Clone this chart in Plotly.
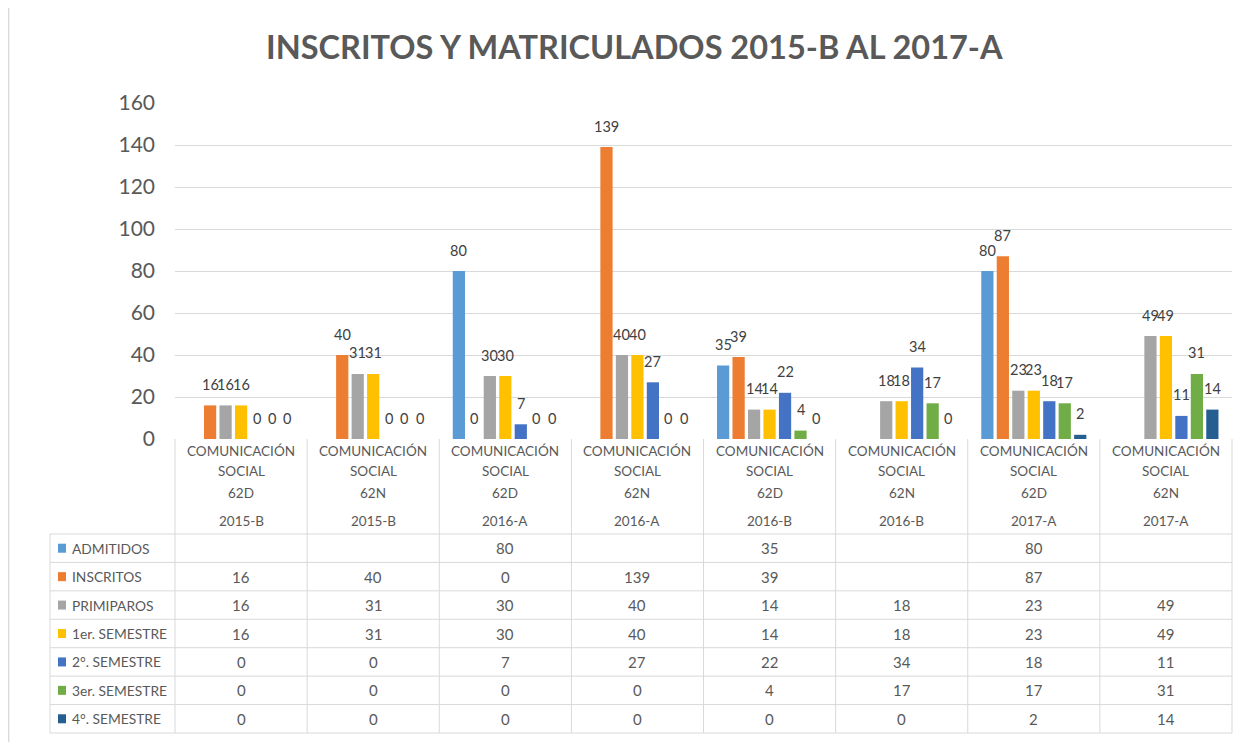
import plotly.graph_objects as go

W, H = 1260, 742

categories = ["COMUNICACIÓN SOCIAL 62D 2015-B", "COMUNICACIÓN SOCIAL 62N 2015-B",
              "COMUNICACIÓN SOCIAL 62D 2016-A", "COMUNICACIÓN SOCIAL 62N 2016-A",
              "COMUNICACIÓN SOCIAL 62D 2016-B", "COMUNICACIÓN SOCIAL 62N 2016-B",
              "COMUNICACIÓN SOCIAL 62D 2017-A", "COMUNICACIÓN SOCIAL 62N 2017-A"]
cat_program = ["COMUNICACIÓN"] * 8
cat_program2 = ["SOCIAL"] * 8
cat_group = ["62D", "62N", "62D", "62N", "62D", "62N", "62D", "62N"]
cat_period = ["2015-B", "2015-B", "2016-A", "2016-A", "2016-B", "2016-B", "2017-A", "2017-A"]

series_names = ["ADMITIDOS", "INSCRITOS", "PRIMIPAROS", "1er. SEMESTRE",
                "2°. SEMESTRE", "3er. SEMESTRE", "4°. SEMESTRE"]
admitidos = [None, None, 80, None, 35, None, 80, None]
inscritos = [16, 40, 0, 139, 39, None, 87, None]
primiparos = [16, 31, 30, 40, 14, 18, 23, 49]
sem1 = [16, 31, 30, 40, 14, 18, 23, 49]
sem2 = [0, 0, 7, 27, 22, 34, 18, 11]
sem3 = [0, 0, 0, 0, 4, 17, 17, 31]
sem4 = [0, 0, 0, 0, 0, 0, 2, 14]
series_values = [admitidos, inscritos, primiparos, sem1, sem2, sem3, sem4]
colors = ["#5B9BD5", "#ED7D31", "#A5A5A5", "#FFC000", "#4472C4", "#70AD47", "#255E91"]
y_ticks = [0, 20, 40, 60, 80, 100, 120, 140, 160]
title_text = "INSCRITOS Y MATRICULADOS 2015-B AL 2017-A"

FONT = "Lato, sans-serif"
TXT = "#595959"
GRID = "#D9D9D9"

# page offset of the figure inside the browser (body margin)
OFF = 8


def px(x):
    return (x - OFF) / W


def py(y):
    return 1 - (y - OFF) / H


X0, X1 = 175, 1232
Y0, Y1 = 439, 103
BARGAP = 0.18
GROUPGAP = 0.21

fig = go.Figure()
for name, vals, col in zip(series_names, series_values, colors):
    fig.add_trace(go.Bar(x=categories, y=vals, name=name, marker_color=col,
                         marker_line_width=0, hoverinfo="skip"))

shapes = []
annotations = []
n = len(categories)
k = len(series_names)
cw = (X1 - X0) / n
slot = cw * (1 - BARGAP) / k

# data labels, anchored on each bar's value through the axes
for j, vals in enumerate(series_values):
    for i, v in enumerate(vals):
        if v is None:
            continue
        annotations.append(dict(x=categories[i], y=v, xref="x", yref="y", text=str(v),
                                showarrow=False, xanchor="center", yanchor="middle",
                                xshift=(j - (k - 1) / 2) * slot, yshift=21,
                                font=dict(family=FONT, size=14.5, color="#404040")))

# table borders
row_top = 534
rows_bottom = 733
row_h = (rows_bottom - row_top) / k
line = dict(color=GRID, width=1)
for i in range(n + 1):
    xx = X0 + i * cw
    shapes.append(dict(type="line", xref="paper", yref="paper", x0=px(xx), x1=px(xx),
                       y0=py(Y0), y1=py(rows_bottom), line=line))
shapes.append(dict(type="line", xref="paper", yref="paper", x0=px(50), x1=px(50),
                   y0=py(row_top), y1=py(rows_bottom), line=line))
for r in range(k + 1):
    yy = row_top + r * row_h
    shapes.append(dict(type="line", xref="paper", yref="paper", x0=px(50), x1=px(X1),
                       y0=py(yy), y1=py(yy), line=line))

# category labels
for i in range(n):
    cx = px(X0 + (i + 0.5) * cw)
    for txt, yy in zip([cat_program[i], cat_program2[i], cat_group[i], cat_period[i]],
                       [451, 471, 493, 521]):
        annotations.append(dict(x=cx, y=py(yy), xref="paper", yref="paper", text=txt,
                                showarrow=False, xanchor="center", yanchor="middle",
                                font=dict(family=FONT, size=13.5, color=TXT)))

# table rows
for r, (name, vals, col) in enumerate(zip(series_names, series_values, colors)):
    cy = row_top + (r + 0.5) * row_h
    shapes.append(dict(type="rect", xref="paper", yref="paper", x0=px(58), x1=px(66),
                       y0=py(cy + 4.5), y1=py(cy - 4.5), fillcolor=col, line=dict(width=0)))
    annotations.append(dict(x=px(70), y=py(cy), xref="paper", yref="paper", text=name,
                            showarrow=False, xanchor="left", yanchor="middle",
                            font=dict(family=FONT, size=13.8, color=TXT)))
    for i, v in enumerate(vals):
        if v is None:
            continue
        annotations.append(dict(x=px(X0 + (i + 0.5) * cw), y=py(cy), xref="paper", yref="paper",
                                text=str(v), showarrow=False, xanchor="center", yanchor="middle",
                                font=dict(family=FONT, size=15, color=TXT)))

# left chart border
shapes.append(dict(type="line", xref="paper", yref="paper", x0=0.0005, x1=0.0005,
                   y0=0, y1=1, line=dict(color=GRID, width=1.5)))

annotations.append(dict(x=px(634), y=py(47), xref="paper", yref="paper",
                        text="<b>" + title_text + "</b>",
                        showarrow=False, xanchor="center", yanchor="middle",
                        font=dict(family=FONT, size=32.5, color=TXT)))

fig.update_layout(
    width=W, height=H, margin=dict(l=0, r=0, t=0, b=0, autoexpand=False),
    paper_bgcolor="white", plot_bgcolor="white",
    showlegend=False, barmode="group", bargap=BARGAP, bargroupgap=GROUPGAP,
    xaxis=dict(domain=[px(X0), px(X1)], showticklabels=False, showgrid=False,
               zeroline=False, showline=False, ticks="", automargin=False),
    yaxis=dict(domain=[py(Y0), py(Y1)], range=[0, 160], tickvals=y_ticks,
               showgrid=True, gridcolor=GRID, gridwidth=1, zeroline=False,
               showline=False, ticks="", ticklabelstandoff=19, automargin=False,
               tickfont=dict(family=FONT, size=21, color=TXT)),
    shapes=shapes, annotations=annotations,
)

fig.write_html("out.html")
